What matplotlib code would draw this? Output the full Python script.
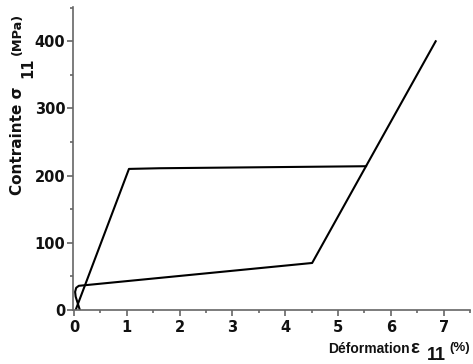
import matplotlib
matplotlib.use("Agg")
import matplotlib.pyplot as plt
from matplotlib.ticker import MultipleLocator

# Loading path: elastic rise, plateau, then hardening branch
load_strain = [0.03, 1.04, 1.62, 5.53, 6.85]
load_stress = [0.0, 210.0, 211.0, 214.0, 400.0]

# Second path: near-origin loop, slow rise, joining the hardening branch
path2_strain = [0.11, 0.03, 0.02, 0.04, 0.09, 4.51, 5.53]
path2_stress = [0.0, 20.0, 27.0, 33.0, 36.0, 70.0, 214.0]

xticks = [0, 1, 2, 3, 4, 5, 6, 7]
yticks = [0, 100, 200, 300, 400]

plt.rcParams["font.family"] = ["DejaVu Sans"]
plt.rcParams["font.weight"] = "bold"

fig = plt.figure(figsize=(4.73, 3.64), dpi=100)
W, H = 473, 364
ax = fig.add_axes([73 / W, 1 - 310 / H, (470 - 73) / W, (310 - 7) / H])

ax.plot(load_strain, load_stress, color="black", lw=1.5, solid_joinstyle="round")
ax.plot(path2_strain, path2_stress, color="black", lw=1.5, solid_joinstyle="round")

ax.set_xlim(-0.02, 7.5)
ax.set_ylim(0, 451)
ax.set_xticks(xticks)
ax.set_yticks(yticks)
ax.xaxis.set_minor_locator(MultipleLocator(0.5))
ax.yaxis.set_minor_locator(MultipleLocator(50))

for side in ("top", "right"):
    ax.spines[side].set_visible(False)
for side in ("left", "bottom"):
    ax.spines[side].set_color("#666666")
    ax.spines[side].set_linewidth(1.2)

ax.tick_params(which="major", direction="out", length=4, width=1.2, color="#666666",
               labelsize=10.5, labelcolor="#111111")
ax.tick_params(which="minor", direction="out", length=2.5, width=1.2, color="#666666")
ax.tick_params(axis="y", pad=1.5)
ax.tick_params(axis="x", pad=3)
for lbl in ax.get_xticklabels() + ax.get_yticklabels():
    lbl.set_fontweight("bold")


def px(x, y):
    return x / W, 1 - y / H


# x-axis label: text, large subscript, raised unit
lab = dict(family=["Liberation Sans", "DejaVu Sans"], fontweight="bold", color="#111111",
           ha="left", va="baseline")
fig.text(*px(328, 353), "Déformation", fontsize=10, **lab)
fig.text(*px(410, 353), "ε", fontsize=13.5, **lab)
fig.text(*px(427, 359.5), "11", fontsize=13, **lab)
fig.text(*px(449, 351), "(%)", fontsize=9.5, **lab)

# y-axis label, rotated: text, large subscript, unit
ylab = dict(family=["DejaVu Sans"], fontweight="bold", color="#111111", rotation=90,
            rotation_mode="anchor", ha="left", va="baseline")
fig.text(*px(22, 195), "Contrainte σ", fontsize=11, **ylab)
fig.text(*px(32, 78), "11", fontsize=10.5, **ylab)
fig.text(*px(21, 55), "(MPa)", fontsize=9.3, **ylab)

fig.savefig("out.png", dpi=100)
